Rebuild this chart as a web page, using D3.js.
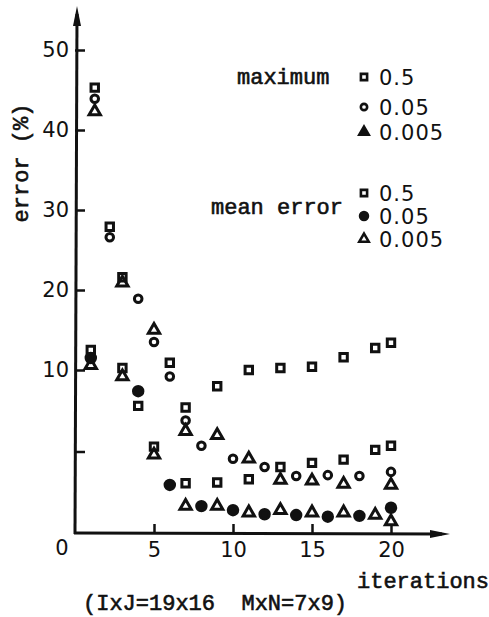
<!DOCTYPE html>
<html>
<head>
<meta charset="utf-8">
<script src="https://cdn.jsdelivr.net/npm/d3@7"></script>
<style>
    body { margin: 0; background: #fff; }
    .mono { font-family: "Liberation Mono", "DejaVu Sans Mono", monospace; font-size: 22px; fill: #111; stroke: #111; stroke-width: 0.6px; }
    .num { font-family: "DejaVu Sans", sans-serif; font-size: 21px; fill: #111; }
</style>
</head>
<body>
<div id="chart"></div>
<script>
// [iteration, error %]
const maxHalf = [[1.25, 45.3], [2.2, 27.9], [3, 21.6], [6, 10.9], [7, 7.7], [9, 9.0], [11, 10], [13, 10.25], [15, 10.4], [17, 11.6], [19, 12.75], [20, 13.4]];
const maxTwentieth = [[1.25, 43.9], [2.2, 26.6], [4, 18.9], [5, 13.5], [6, 9.6], [7, 6.9], [8, 5.35], [10, 4.55], [12, 4.05], [14, 3.5], [16, 3.55], [18, 3.5], [20, 3.75]];
const maxTiny = [[1.25, 42.3], [3, 20.9], [5, 15], [7, 6.25], [9, 6.0], [11, 4.55], [13, 3.25], [15, 3.2], [17, 3.0], [20, 2.95]];
const meanHalf = [[1, 12.5], [3, 10.25], [4, 7.8], [5, 5.3], [7, 3.05], [9, 3.1], [11, 3.3], [13, 4.05], [15, 4.3], [17, 4.5], [19, 5.1], [20, 5.35]];
const meanTwentieth = [[1, 11.5], [4, 8.7], [6, 2.95], [8, 1.65], [10, 1.4], [12, 1.15], [14, 1.1], [16, 1.0], [18, 1.05], [20, 1.55]];
const meanTiny = [[1, 10.6], [3, 9.6], [5, 4.8], [7, 1.65], [9, 1.65], [11, 1.25], [13, 1.4], [15, 1.25], [17, 1.25], [19, 1.1], [20, 0.7]];

const legendGroups = ["maximum", "mean error"];
const legendLabels = ["0.5", "0.05", "0.005"];
const xTicks = [5, 10, 15, 20];
const yTicks = [5, 10, 20, 30, 40, 50];

const width = 489, height = 617;

const svg = d3.select("#chart").append("svg")
    .attr("width", width)
    .attr("height", height);

// y axis is stretched below 10 (0-10 takes twice the room of 10-20)
const x = d3.scaleLinear().domain([0, 20]).range([75, 391]);
const y = d3.scaleLinear().domain([0, 10, 50]).range([533, 370, 50]);

// shapes: square / circle / triangle, open or filled
const shapes = {
    square: { type: d3.symbolSquare, size: 55, fill: "none" },
    circle: { type: d3.symbolCircle, size: 45, fill: "none" },
    dot: { type: d3.symbolCircle, size: 70, fill: "#111" },
    triangle: { type: d3.symbolTriangle, size: 55, fill: "none" }
};

const series = [
    { data: maxHalf, shape: "square" },
    { data: maxTwentieth, shape: "circle" },
    { data: maxTiny, shape: "triangle" },
    { data: meanHalf, shape: "square" },
    { data: meanTwentieth, shape: "dot" },
    { data: meanTiny, shape: "triangle" }
];

// axes
const yAxis = svg.append("g")
    .attr("transform", `translate(${x(0)},0)`)
    .call(d3.axisLeft(y).tickValues(yTicks).tickSize(-10).tickPadding(6)
        .tickFormat(d => d === 5 ? "" : d));
yAxis.select(".domain").remove();
yAxis.selectAll("line").attr("stroke", "#111").attr("stroke-width", 2.5);
yAxis.selectAll("text").attr("class", "num").attr("font-size", null).attr("font-family", null);

const xAxis = svg.append("g")
    .attr("transform", `translate(0,${y(0)})`)
    .call(d3.axisBottom(x).tickValues(xTicks).tickSize(-9).tickPadding(9));
xAxis.select(".domain").remove();
xAxis.selectAll("line").attr("stroke", "#111").attr("stroke-width", 2.5);
xAxis.selectAll("text").attr("class", "num").attr("font-size", null).attr("font-family", null);

svg.append("text")
    .attr("class", "num")
    .attr("x", x(0) - 13)
    .attr("y", y(0) + 22)
    .attr("text-anchor", "middle")
    .text("0");

// axis lines with arrows
svg.append("line")
    .attr("x1", x(0)).attr("y1", y(0) + 1)
    .attr("x2", x(0) + 2).attr("y2", 14)
    .attr("stroke", "#111").attr("stroke-width", 3);
svg.append("path")
    .attr("d", `M${x(0) + 2},6 L${x(0) - 2},26 L${x(0) + 6},26 Z`)
    .attr("fill", "#111");

svg.append("line")
    .attr("x1", x(0) - 1).attr("y1", y(0))
    .attr("x2", 442).attr("y2", y(0) + 1)
    .attr("stroke", "#111").attr("stroke-width", 3);
svg.append("path")
    .attr("d", `M450,${y(0) + 1} L430,${y(0) - 3} L430,${y(0) + 5} Z`)
    .attr("fill", "#111");

// points
series.forEach(s => {
    const sh = shapes[s.shape];
    svg.append("g").selectAll("path")
        .data(s.data)
        .enter()
        .append("path")
        .attr("transform", d => `translate(${x(d[0])},${y(d[1])})`)
        .attr("d", d3.symbol().type(sh.type).size(sh.size))
        .attr("fill", sh.fill)
        .attr("stroke", "#111")
        .attr("stroke-width", 3);
});

// legend
const legendTop = [77, 193];
const rowGap = [[0, 30, 55], [0, 23, 46]];
const groupY = [77, 207];

legendGroups.forEach((g, gi) => {
    svg.append("text")
        .attr("class", "mono")
        .attr("x", gi === 0 ? 237 : 211)
        .attr("y", groupY[gi])
        .attr("dy", "0.32em")
        .text(g);

    legendLabels.forEach((lab, li) => {
        const s = series[gi * 3 + li];
        const sh = shapes[s.shape];
        const ly = legendTop[gi] + rowGap[gi][li];
        svg.append("path")
            .attr("transform", `translate(364,${ly})`)
            .attr("d", d3.symbol().type(sh.type).size(sh.size * 0.7))
            .attr("fill", gi === 0 && li === 2 ? "#111" : sh.fill)
            .attr("stroke", "#111")
            .attr("stroke-width", 2.6);
        svg.append("text")
            .attr("class", "num")
            .attr("x", 379)
            .attr("y", ly)
            .attr("dy", "0.36em")
            .attr("letter-spacing", 1)
            .text(lab);
    });
});

// axis titles
svg.append("text")
    .attr("class", "mono")
    .attr("transform", "translate(21,163) rotate(-90)")
    .attr("text-anchor", "middle")
    .attr("dy", "0.32em")
    .text("error (%)");

svg.append("text")
    .attr("class", "mono")
    .attr("x", 357)
    .attr("y", 588)
    .text("iterations");

svg.append("text")
    .attr("class", "mono")
    .attr("x", 83)
    .attr("y", 610)
    .attr("xml:space", "preserve")
    .style("white-space", "pre")
    .text("(IxJ=19x16  MxN=7x9)");
</script>
</body>
</html>
